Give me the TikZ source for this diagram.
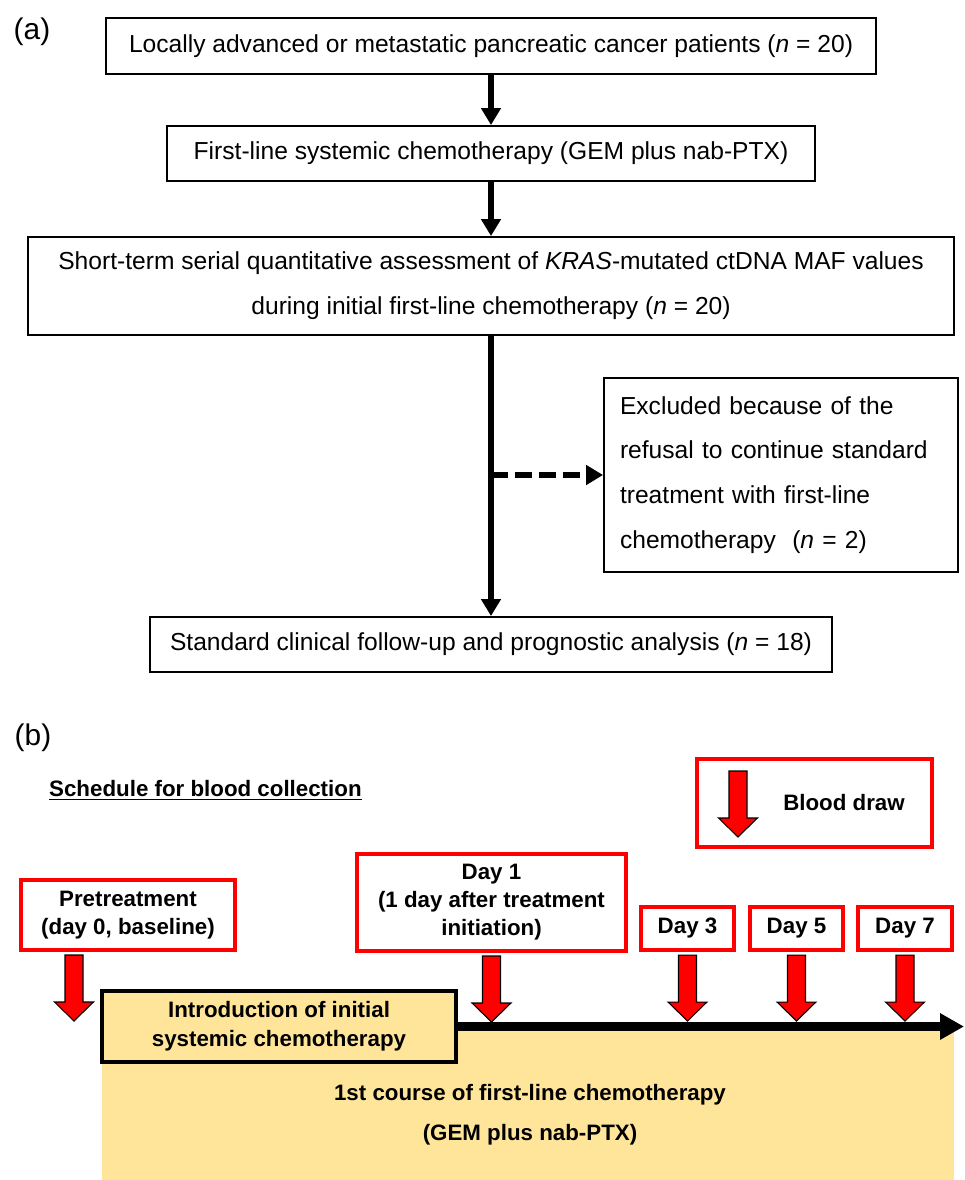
\documentclass[tikz,border=0pt]{standalone}
\usepackage{fontspec}
\setmainfont{Liberation Sans}
\usetikzlibrary{arrows.meta,positioning}

\definecolor{chemoyellow}{HTML}{FFE599}

\tikzset{
	flowbox/.style={draw=black, line width=1.1pt, align=center, inner sep=0pt, font=\fontsize{14}{25.5}\selectfont},
	flowarrow/.style={line width=3.1pt, -{Triangle[length=9.6pt,width=10.8pt]}},
	redbox/.style={draw=red, line width=2.3pt, fill=white, align=center, inner sep=0pt, font=\fontsize{12.7}{15.9}\selectfont\bfseries},
	boldtext/.style={font=\fontsize{12.7}{22.7}\selectfont\bfseries, align=center},
	panel/.style={font=\fontsize{17}{20}\selectfont},
	drop/.pic={\filldraw[fill=red, draw=black, line width=0.6pt] (-9,3) -- (-9,50) -- (-19.5,50) -- (0,69) -- (19.5,50) -- (9,50) -- (9,3) -- cycle;}
}

\begin{document}
\begin{tikzpicture}[x=0.02cm, y=-0.02cm]
		\useasboundingbox (0,0) rectangle (964,1180);
		% (a) flow chart
		\node[panel] (labela) at (32,32) {(a)};
		\node[flowbox, minimum width=15.4cm, minimum height=1.12cm] (patients) at (491,46) {Locally advanced or metastatic pancreatic cancer patients (\textit{n} = 20)};
		\node[flowbox, minimum width=12.96cm, minimum height=1.1cm] (firstline) at (491,153.5) {First-line systemic chemotherapy (GEM plus nab-PTX)};
		\node[flowbox, minimum width=18.52cm, minimum height=1.96cm] (serial) at (491,286) {Short-term serial quantitative assessment of \textit{KRAS}-mutated ctDNA MAF values\\during initial first-line chemotherapy (\textit{n} = 20)};
		\node[flowbox, align=left, text width=6.44cm, inner xsep=0.32cm, minimum height=3.88cm] (excluded) at (781,475) {Excluded because of the\\refusal to continue standard\\treatment with first-line\\chemotherapy\ \ (\textit{n} = 2)};
		\node[flowbox, minimum width=13.66cm, minimum height=1.1cm] (followup) at (491,644.5) {Standard clinical follow-up and prognostic analysis (\textit{n} = 18)};
		\coordinate (branch) at (491,475);
		\draw[flowarrow] (patients) -- (firstline);
		\draw[flowarrow] (firstline) -- (serial);
		\draw[flowarrow] (serial) -- (followup);
		\draw[flowarrow, dash pattern=on 9.6pt off 4pt] (branch) -- (excluded.west);
		% (b) blood collection schedule
		\node[panel] (labelb) at (33,738) {(b)};
		\node[anchor=west, font=\fontsize{12.7}{15}\selectfont\bfseries] (schedule) at (43,790) {\underline{Schedule for blood collection}};
		\node[redbox, minimum width=4.7cm, minimum height=1.76cm] (legend) at (814.5,803) {};
		\pic at (738,768) {drop};
		\node[boldtext] (blooddraw) at (844,803) {Blood draw};
		\fill[chemoyellow] (102,1027) rectangle (954,1180);
		\node[draw=black, line width=2.8pt, fill=chemoyellow, inner sep=0pt, minimum width=7.08cm, minimum height=1.42cm, font=\fontsize{12.7}{16.4}\selectfont\bfseries, align=center] (intro) at (279,1026.5) {Introduction of initial\\systemic chemotherapy};
		\coordinate (timeend) at (964,1026.5);
		\draw[line width=5.1pt, -{Triangle[length=13.6pt,width=14.2pt]}] (intro.east) -- (timeend);
		\node[boldtext] (course) at (530,1115) {1st course of first-line chemotherapy\\(GEM plus nab-PTX)};
		\node[redbox, minimum width=4.28cm, minimum height=1.4cm] (pre) at (128,915) {Pretreatment\\(day 0, baseline)};
		\node[redbox, minimum width=5.38cm, minimum height=1.94cm] (d1) at (491.5,902.5) {Day 1\\(1 day after treatment\\initiation)};
		\node[redbox, minimum width=1.86cm, minimum height=0.86cm] (d3) at (687.5,928.5) {Day 3};
		\node[redbox, minimum width=1.86cm, minimum height=0.86cm] (d5) at (796.5,928.5) {Day 5};
		\node[redbox, minimum width=1.88cm, minimum height=0.86cm] (d7) at (905,928.5) {Day 7};
		\pic at (pre.south -| 74,0) {drop};
		\foreach \d in {d1,d3,d5,d7} {
			\pic at (\d.south) {drop};
		}
	\end{tikzpicture}
\end{document}
